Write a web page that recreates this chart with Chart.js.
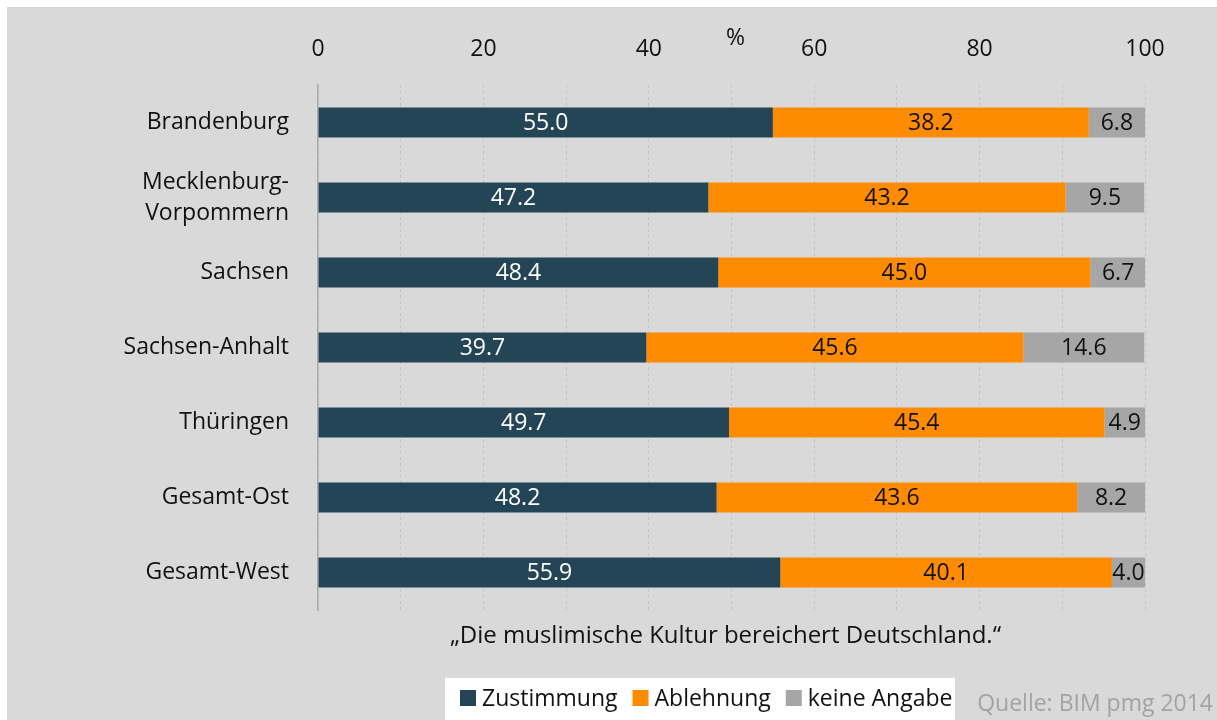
<!DOCTYPE html>
<html><head><meta charset="utf-8">
<script src="https://cdn.jsdelivr.net/npm/chart.js@4/dist/chart.umd.min.js"></script>
<style>
html,body{margin:0;padding:0;background:#fff;}
#wrap{position:absolute;left:7px;top:7px;width:1210px;height:713px;background:#d9d9d9;}
canvas{display:block;}
</style></head><body>
<div id="wrap"><canvas id="c" width="1210" height="713"></canvas></div>
<script>
const categories = ['Brandenburg', ['Mecklenburg-','Vorpommern'], 'Sachsen', 'Sachsen-Anhalt', 'Thüringen', 'Gesamt-Ost', 'Gesamt-West'];
const zustimmung = [55.0, 47.2, 48.4, 39.7, 49.7, 48.2, 55.9];
const ablehnung  = [38.2, 43.2, 45.0, 45.6, 45.4, 43.6, 40.1];
const keineAngabe = [6.8, 9.5, 6.7, 14.6, 4.9, 8.2, 4.0];
const seriesNames = ['Zustimmung', 'Ablehnung', 'keine Angabe'];
const xTickLabels = ['0','20','40','60','80','100'];
const axisUnit = '%';
const question = '„Die muslimische Kultur bereichert Deutschland.“';
const sourceNote = 'Quelle: BIM pmg 2014';

const COLORS = ['#244556', '#ff8b00', '#a6a6a6'];
const FONT = '"Open Sans", sans-serif';
const FS = 23;

const extras = {
  id: 'extras',
  afterDatasetsDraw(chart) {
    const ctx = chart.ctx;
    ctx.save();
    ctx.font = FS + 'px ' + FONT;
    ctx.textAlign = 'center';
    ctx.textBaseline = 'middle';
    chart.data.datasets.forEach((ds, i) => {
      const meta = chart.getDatasetMeta(i);
      ctx.fillStyle = i === 0 ? '#ffffff' : '#111111';
      meta.data.forEach((el, j) => {
        const p = el.getProps(['x', 'y', 'base'], true);
        ctx.fillText(ds.data[j].toFixed(1), (p.x + p.base) / 2, p.y + 1);
      });
    });
    ctx.restore();
  },
  afterDraw(chart) {
    const ctx = chart.ctx;
    const ca = chart.chartArea;
    const xs = chart.scales.x;
    ctx.save();
    ctx.textBaseline = 'middle';
    ctx.textAlign = 'center';
    ctx.fillStyle = '#111';
    ctx.font = FS + 'px ' + FONT;
    ctx.fillText(axisUnit, xs.getPixelForValue(50) + 4, 31);
    ctx.font = '24px ' + FONT;
    ctx.fillText(question, (ca.left + ca.right) / 2 - 6, 629);
    // legend
    ctx.font = FS + 'px ' + FONT;
    const sq = 16, gap = 6, itemGap = 15;
    const widths = seriesNames.map(n => ctx.measureText(n).width);
    const boxL = 438, boxR = 948, boxT = 671, boxB = 713;
    ctx.fillStyle = '#ffffff';
    ctx.fillRect(boxL, boxT, boxR - boxL, boxB - boxT);
    let x = boxL + 15;
    const cy = 691;
    ctx.textAlign = 'left';
    seriesNames.forEach((n, i) => {
      ctx.fillStyle = COLORS[i];
      ctx.fillRect(x, cy - sq / 2, sq, sq);
      x += sq + gap;
      ctx.fillStyle = '#111';
      ctx.fillText(n, x, cy + 1);
      x += widths[i] + itemGap;
    });
    // source
    ctx.textAlign = 'right';
    ctx.fillStyle = '#a3a3a3';
    ctx.fillText(sourceNote, 1206, 697);
    ctx.restore();
  }
};

new Chart(document.getElementById('c'), {
  type: 'bar',
  data: {
    labels: categories,
    datasets: [
      { label: seriesNames[0], data: zustimmung, backgroundColor: COLORS[0] },
      { label: seriesNames[1], data: ablehnung, backgroundColor: COLORS[1] },
      { label: seriesNames[2], data: keineAngabe, backgroundColor: COLORS[2] }
    ]
  },
  options: {
    indexAxis: 'y',
    responsive: false,
    animation: false,
    devicePixelRatio: 1,
    barPercentage: 0.4,
    categoryPercentage: 1.0,
    layout: { padding: { left: 0, right: 72, top: 0, bottom: 110 } },
    plugins: { legend: { display: false }, tooltip: { enabled: false } },
    scales: {
      x: {
        position: 'top',
        stacked: true,
        min: 0, max: 100,
        afterFit(s) { s.height = 78; },
        afterBuildTicks(s) {
          const t = [];
          for (let v = 0; v <= 100; v += 10) t.push({ value: v });
          s.ticks = t;
        },
        ticks: {
          autoSkip: false,
          maxRotation: 0,
          padding: 22,
          color: '#111',
          font: { family: FONT, size: FS },
          callback(v) { return v % 20 === 0 ? xTickLabels[v / 20] : ''; }
        },
        grid: { color: '#c3c3c3', lineWidth: 1, drawTicks: false },
        border: { display: false, dash: [3, 3] }
      },
      y: {
        stacked: true,
        afterFit(s) { s.width = 311; },
        ticks: {
          padding: 29,
          color: '#111',
          font: { family: FONT, size: FS, lineHeight: 1.35 }
        },
        grid: { display: false, drawTicks: false },
        border: { display: true, color: '#ababab', width: 1.5 }
      }
    }
  },
  plugins: [extras]
});
</script>
</body></html>
